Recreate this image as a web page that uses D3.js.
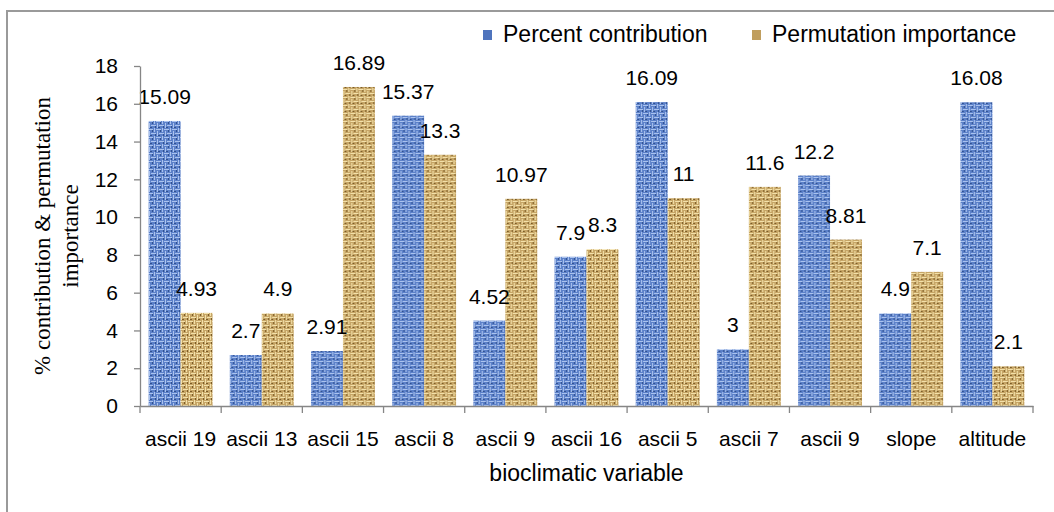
<!DOCTYPE html>
<html>
<head>
<meta charset="utf-8">
<script src="https://cdn.jsdelivr.net/npm/d3@7"></script>
<style>
  body { margin: 0; background: #fff; }
  text { font-family: "Liberation Sans", Arial, sans-serif; fill: #000; }
  .axis path, .axis line { stroke: #868686; stroke-width: 1.3; }
</style>
</head>
<body>
<div class="chart"></div>
<script>
// categories and values
var categories = ["ascii 19", "ascii 13", "ascii 15", "ascii 8", "ascii 9", "ascii 16", "ascii 5", "ascii 7", "ascii 9", "slope", "altitude"];
var seriesNames = ["Percent contribution", "Permutation importance"];
var percentContribution = [15.09, 2.7, 2.91, 15.37, 4.52, 7.9, 16.09, 3, 12.2, 4.9, 16.08];
var permutationImportance = [4.93, 4.9, 16.89, 13.3, 10.97, 8.3, 11, 11.6, 8.81, 7.1, 2.1];
var yTicks = [0, 2, 4, 6, 8, 10, 12, 14, 16, 18];

var w = 1054, h = 512;
var plotLeft = 140, plotRight = 1033, plotTop = 66, plotBottom = 406;

var svg = d3.select(".chart").append("svg")
  .attr("width", w)
  .attr("height", h);

// textures for the bars (woven look)
var defs = svg.append("defs");
function texture(id, base, light, dark) {
  var p = defs.append("pattern")
    .attr("id", id)
    .attr("patternUnits", "userSpaceOnUse")
    .attr("width", 8)
    .attr("height", 8);
  p.append("rect").attr("width", 8).attr("height", 8).attr("fill", base);
  p.append("rect").attr("x", 0).attr("y", 1).attr("width", 5).attr("height", 1).attr("fill", light);
  p.append("rect").attr("x", 3).attr("y", 5).attr("width", 5).attr("height", 1).attr("fill", light);
  p.append("rect").attr("x", 6).attr("y", 0).attr("width", 1).attr("height", 4).attr("fill", light);
  p.append("rect").attr("x", 1).attr("y", 3).attr("width", 1).attr("height", 5).attr("fill", light);
  p.append("rect").attr("x", 4).attr("y", 2).attr("width", 1).attr("height", 2).attr("fill", dark);
  p.append("rect").attr("x", 7).attr("y", 6).attr("width", 1).attr("height", 2).attr("fill", dark);
  p.append("rect").attr("x", 2).attr("y", 7).attr("width", 2).attr("height", 1).attr("fill", dark);
}
texture("texBlue", "#5c81c9", "#abc3ee", "#30508f");
texture("texTan", "#c6a566", "#f3e1aa", "#7b5c27");
var fills = ["url(#texBlue)", "url(#texTan)"];
var swatch = ["#4f74bd", "#c09e5e"];

// outer frame
svg.append("path")
  .attr("d", "M7," + (h + 5) + "V11H" + (w + 5))
  .attr("fill", "none")
  .attr("stroke", "#9a9a9a")
  .attr("stroke-width", 2);

var idx = d3.range(categories.length);
var x0 = d3.scaleBand().domain(idx).range([plotLeft, plotRight]).padding(0);
var x1 = d3.scaleBand().domain([0, 1]).range([0, x0.bandwidth()]).paddingInner(0).paddingOuter(0.27);
var y = d3.scaleLinear().domain([0, 18]).range([plotBottom, plotTop]);

// bars
var rows = idx.map(function (i) {
  return { i: i, vals: [percentContribution[i], permutationImportance[i]] };
});
var groups = svg.append("g").selectAll("g").data(rows).enter().append("g")
  .attr("transform", function (d) { return "translate(" + x0(d.i) + ",0)"; });
groups.selectAll("rect").data(function (d) { return d.vals; }).enter().append("rect")
  .attr("x", function (d, k) { return x1(k); })
  .attr("y", function (d) { return y(d); })
  .attr("width", x1.bandwidth())
  .attr("height", function (d) { return plotBottom - y(d); })
  .attr("fill", function (d, k) { return fills[k]; });

// value labels
groups.selectAll("text").data(function (d) { return d.vals; }).enter().append("text")
  .attr("x", function (d, k) { return x1(k) + x1.bandwidth() / 2; })
  .attr("y", function (d) { return y(d) - 17; })
  .attr("text-anchor", "middle")
  .style("font-size", "21px")
  .text(function (d) { return d; });

// y axis
var yAxis = d3.axisLeft(y).tickValues(yTicks).tickSize(6).tickSizeOuter(0).tickPadding(16);
var gy = svg.append("g").attr("class", "axis").attr("transform", "translate(" + plotLeft + ",0)").call(yAxis);
gy.selectAll("text").style("font-size", "21px").style("font-family", "Liberation Sans, Arial, sans-serif").attr("fill", "#000");

// x axis (labels), ticks drawn at band edges
var xAxis = d3.axisBottom(x0).tickSize(0).tickPadding(25).tickFormat(function (i) { return categories[i]; });
var gx = svg.append("g").attr("class", "axis").attr("transform", "translate(0," + plotBottom + ")").call(xAxis);
gx.selectAll("text").style("font-size", "21px").style("font-family", "Liberation Sans, Arial, sans-serif").attr("fill", "#000");
var edges = idx.map(function (i) { return x0(i); }).concat([plotRight]);
gx.selectAll(".edge").data(edges).enter().append("line")
  .attr("class", "edge")
  .attr("x1", function (d) { return d; })
  .attr("x2", function (d) { return d; })
  .attr("y1", 0)
  .attr("y2", 7);

// y axis title
var yt = svg.append("text")
  .attr("transform", "translate(50," + ((plotTop + plotBottom) / 2) + ") rotate(-90)")
  .attr("text-anchor", "middle")
  .style("font-family", "Liberation Serif, 'Times New Roman', serif")
  .style("font-size", "23px");
yt.append("tspan").attr("x", 0).attr("dy", 0).text("% contribution & permutation");
yt.append("tspan").attr("x", 0).attr("dy", 28).text("importance");

// x axis title
svg.append("text")
  .attr("x", (plotLeft + plotRight) / 2)
  .attr("y", 481)
  .attr("text-anchor", "middle")
  .style("font-size", "23px")
  .text("bioclimatic variable");

// legend
var legendX = [483, 752];
var legend = svg.append("g").selectAll("g").data(seriesNames).enter().append("g")
  .attr("transform", function (d, k) { return "translate(" + legendX[k] + ",30)"; });
legend.append("rect")
  .attr("width", 9)
  .attr("height", 10)
  .attr("fill", function (d, k) { return swatch[k]; });
legend.append("text")
  .attr("x", 20)
  .attr("y", 12)
  .style("font-size", "23px")
  .text(function (d) { return d; });
</script>
</body>
</html>
